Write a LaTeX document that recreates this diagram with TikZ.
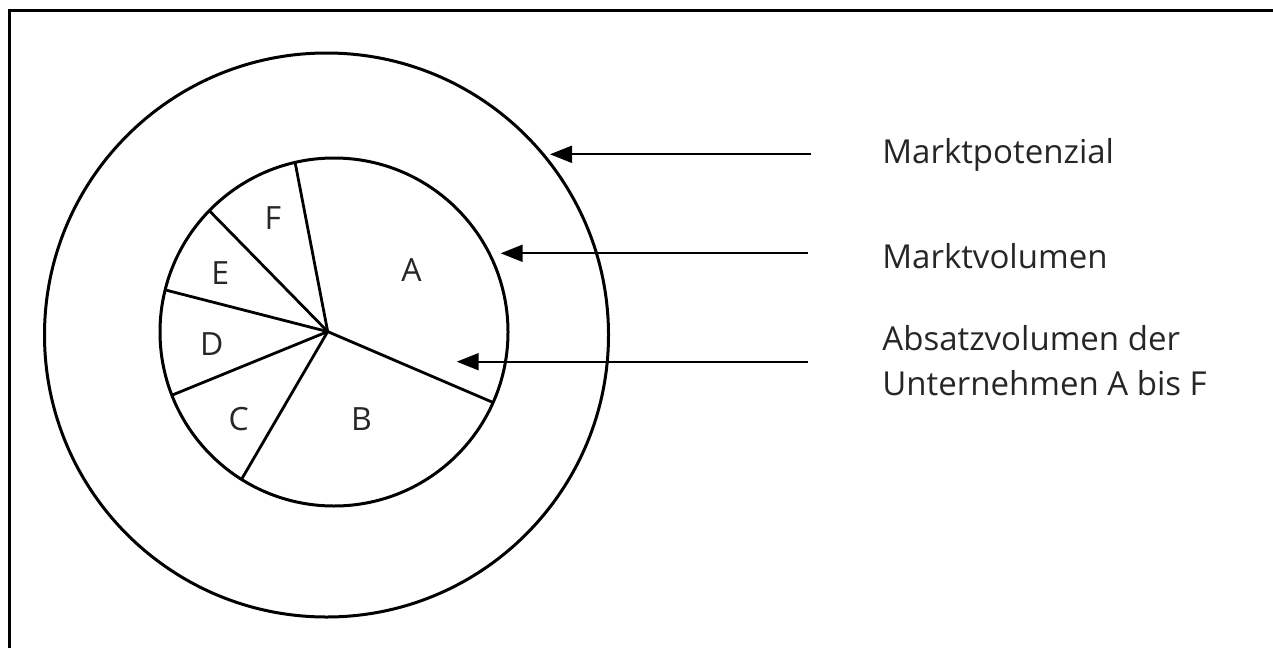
\documentclass[tikz,border=0pt]{standalone}
\usepackage{fontspec}
\setmainfont{Open Sans}
\usetikzlibrary{arrows.meta}
\tikzset{
  ringline/.style={line width=1.5pt},
  spokeline/.style={line width=1.4pt},
  frameline/.style={line width=1.5pt},
  segmentlabel/.style={font=\fontsize{16}{18}\selectfont,text=black!85,inner sep=0pt},
  legendtext/.style={font=\fontsize{16.5}{22.5}\selectfont,text=black!85,align=left,
    inner sep=0pt,anchor=base west},
  pointerarrow/.style={-{Triangle[length=11pt,width=8.5pt]},line width=1pt}
}

\begin{document}
\begin{tikzpicture}[x=0.5pt,y=-0.5pt]
  \useasboundingbox (0,0) rectangle (1273,648);
  % frame
  \draw[frameline] (9,648) -- (9,10) -- (1273,10);
  % market circles
  \coordinate (potctr) at (326.5,335);
  \coordinate (volctr) at (334,332);
  \coordinate (hub) at (327.7,331.6);
  \draw[ringline] (potctr) circle[radius=141pt];
  \draw[ringline] (volctr) circle[radius=87pt];
  % pie spokes
  \foreach \px/\py in {295.1/162.4, 209.3/210.7, 165.2/289.9, 171.9/395.2, 241.5/479.4, 493.1/402.5}
    \draw[spokeline] (hub) -- (\px,\py);
  % segment letters
  \node[segmentlabel] (segA) at (411.5,270) {A};
  \node[segmentlabel] (segB) at (361.4,419) {B};
  \node[segmentlabel] (segC) at (238.6,419) {C};
  \node[segmentlabel] (segD) at (211.8,344) {D};
  \node[segmentlabel] (segE) at (220.2,273) {E};
  \node[segmentlabel] (segF) at (273,218) {F};
  % legend
  \node[legendtext] (potenzial) at (882,163.3) {Marktpotenzial};
  \node[legendtext] (volumen) at (882,268.3) {Marktvolumen};
  \node[legendtext] (absatz) at (882,395) {Absatzvolumen der\\Unternehmen A bis F};
  % arrows
  \coordinate (potTail) at (811,154.3);
  \coordinate (potTip) at (550,154.3);
  \coordinate (volTail) at (808,253.3);
  \coordinate (volTip) at (500.7,253.3);
  \coordinate (absTail) at (808,361.7);
  \coordinate (absTip) at (456.7,361.7);
  \draw[pointerarrow] (potTail) -- (potTip);
  \draw[pointerarrow] (volTail) -- (volTip);
  \draw[pointerarrow] (absTail) -- (absTip);
\end{tikzpicture}
\end{document}
